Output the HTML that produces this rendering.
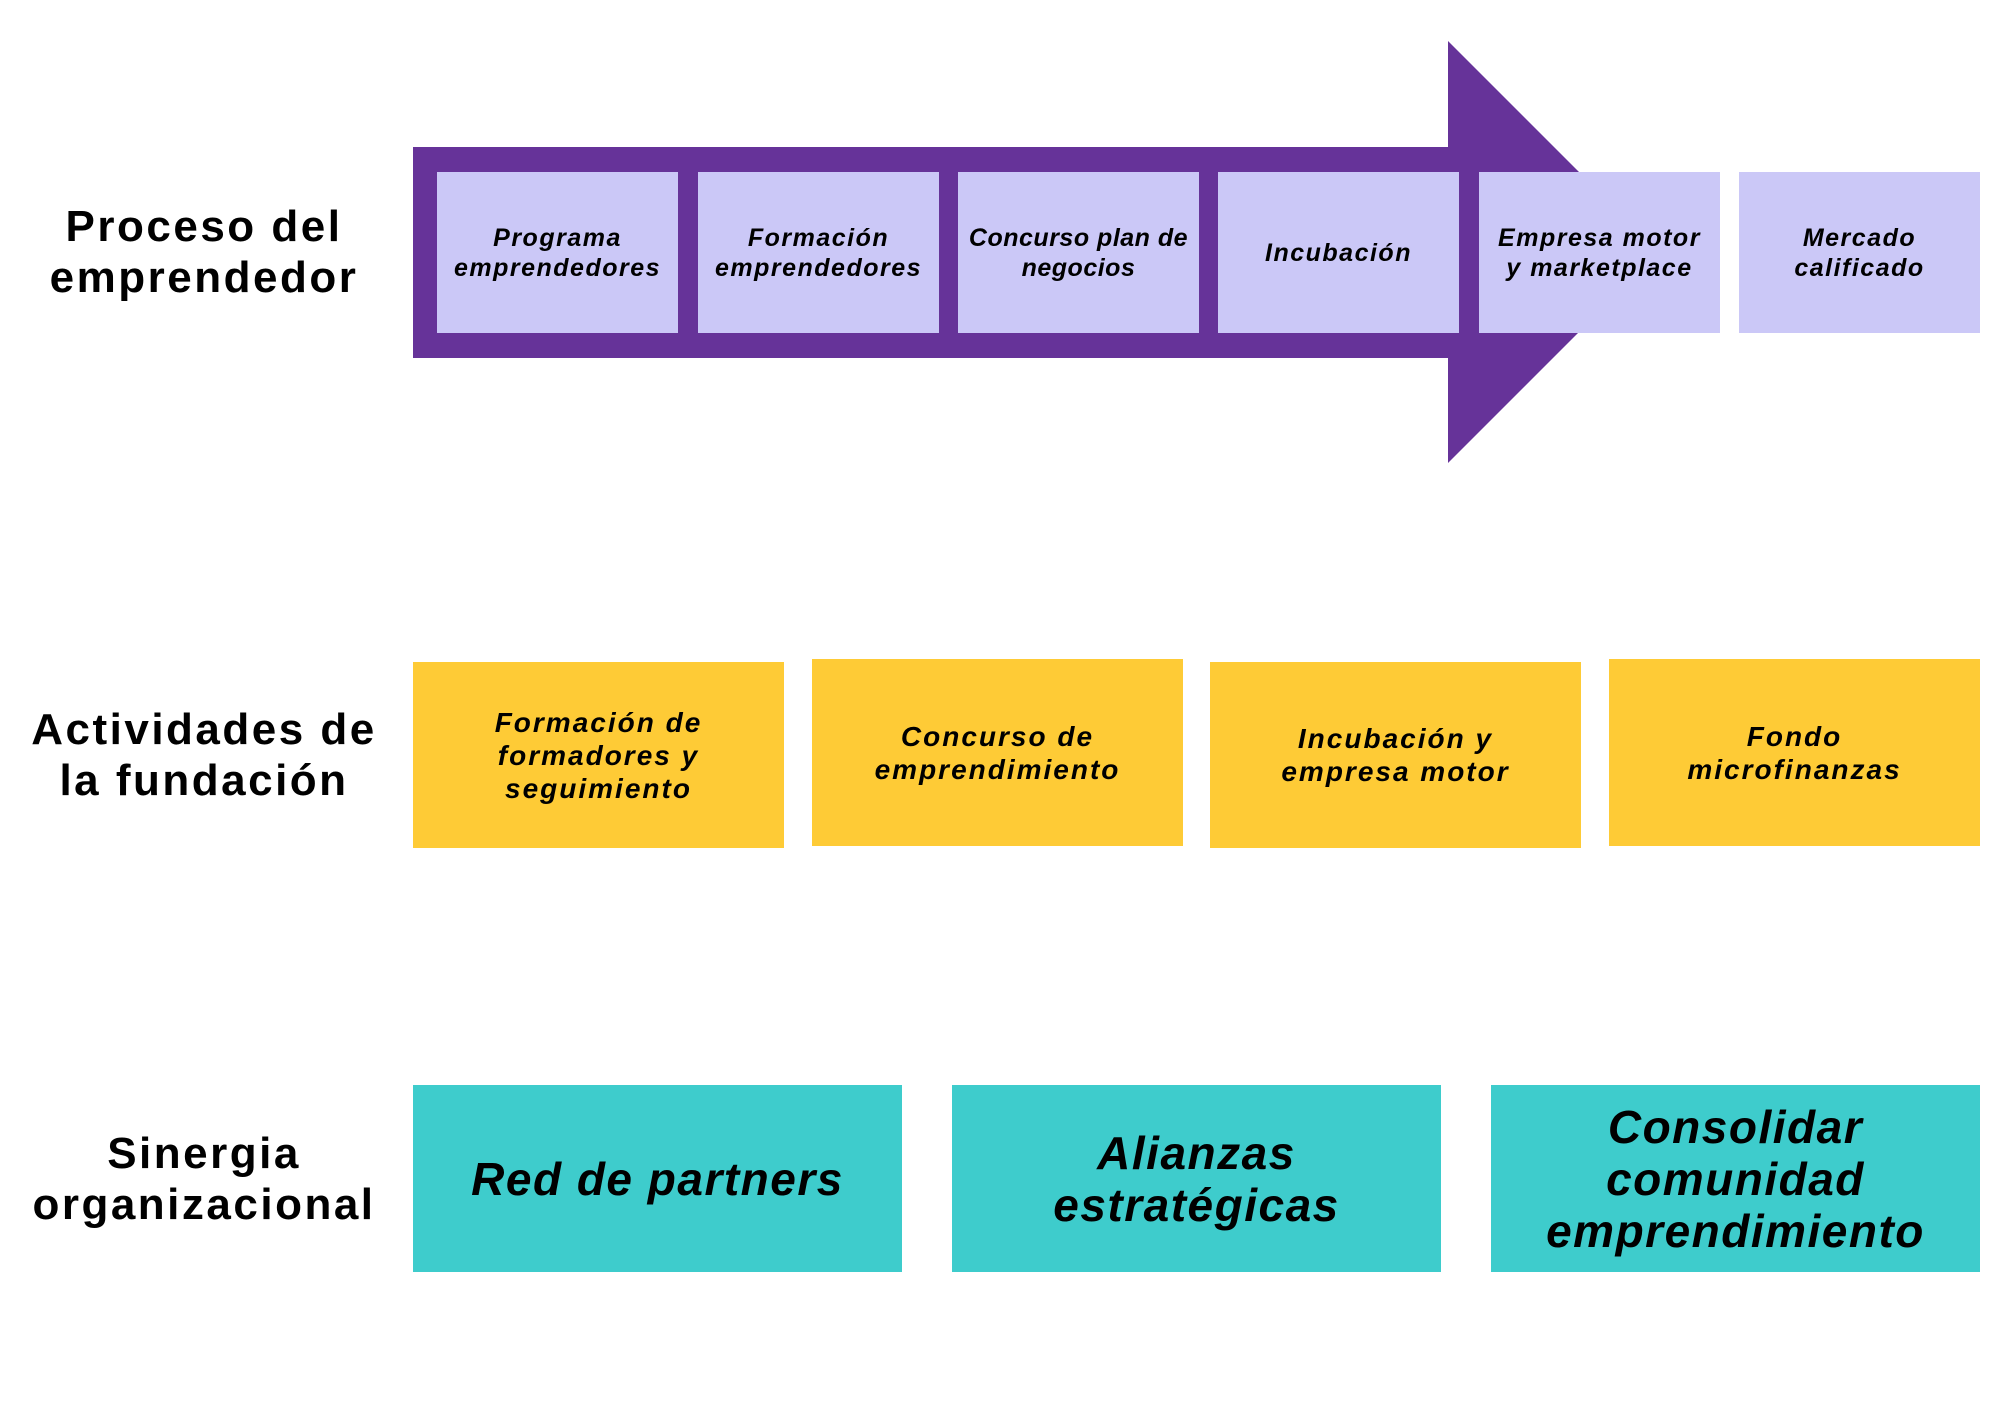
<!DOCTYPE html>
<html><head><meta charset="utf-8"><style>
body{margin:0;width:2000px;height:1414px;background:#fff;position:relative;overflow:hidden;font-family:"Liberation Sans",sans-serif;}
.b{position:absolute;display:flex;align-items:center;justify-content:center;text-align:center;font-weight:bold;font-style:italic;color:#000;}
.p{background:#cbc8f7;font-size:25px;line-height:30px;top:172px;height:161px;width:241px;letter-spacing:1.5px;}
.y{background:#fecb36;font-size:28px;line-height:33px;width:371px;letter-spacing:2px;}
.t{background:#3ecccc;font-size:46px;line-height:52px;top:1085px;height:187px;width:489px;letter-spacing:1.5px;}
.l{position:absolute;left:0;width:408px;text-align:center;font-weight:bold;font-size:44px;line-height:51px;letter-spacing:2.5px;}
</style></head><body>
<svg width="2000" height="1414" style="position:absolute;left:0;top:0">
<polygon points="413,147 1448,147 1448,41 1659,252 1448,463 1448,358 413,358" fill="#663399"/>
</svg>
<div class="l" style="top:201px">Proceso del<br>emprendedor</div>
<div class="l" style="top:704px">Actividades de<br>la fundación</div>
<div class="l" style="top:1128px">Sinergia<br>organizacional</div>

<div class="b p" style="left:437px">Programa<br>emprendedores</div>
<div class="b p" style="left:698px">Formación<br>emprendedores</div>
<div class="b p" style="left:958px;letter-spacing:0.5px">Concurso plan de<br>negocios</div>
<div class="b p" style="left:1218px">Incubación</div>
<div class="b p" style="left:1479px">Empresa motor<br>y marketplace</div>
<div class="b p" style="left:1739px">Mercado<br>calificado</div>

<div class="b y" style="left:413px;top:662px;height:186px">Formación de<br>formadores y<br>seguimiento</div>
<div class="b y" style="left:812px;top:659px;height:187px">Concurso de<br>emprendimiento</div>
<div class="b y" style="left:1210px;top:662px;height:186px">Incubación y<br>empresa motor</div>
<div class="b y" style="left:1609px;top:659px;height:187px">Fondo<br>microfinanzas</div>

<div class="b t" style="left:413px">Red de partners</div>
<div class="b t" style="left:952px">Alianzas<br>estratégicas</div>
<div class="b t" style="left:1491px">Consolidar<br>comunidad<br>emprendimiento</div>
</body></html>
